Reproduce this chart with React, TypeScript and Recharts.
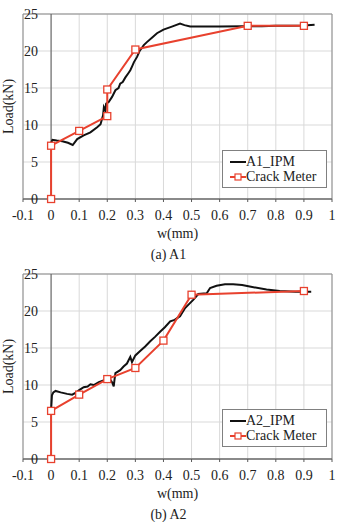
import { CartesianGrid, Label, Legend, Line, LineChart, ReferenceArea, ReferenceLine, XAxis, YAxis } from "recharts"

const FONT = "'Liberation Serif', 'DejaVu Serif', serif"
const RED = "#e8412e"
const AXIS = "#595959"

// shared axes
const wTicks = [-0.1, 0, 0.1, 0.2, 0.3, 0.4, 0.5, 0.6, 0.7, 0.8, 0.9, 1]
const loadTicks = [0, 5, 10, 15, 20, 25]

// A1 - image processing measurement
const a1IpmW = [0, 0.005, 0.02, 0.04, 0.06, 0.077, 0.093, 0.116, 0.14, 0.164, 0.176, 0.185, 0.188, 0.193, 0.196, 0.205, 0.217, 0.229, 0.24, 0.246, 0.255, 0.264, 0.275, 0.282, 0.288, 0.295, 0.306, 0.315, 0.323, 0.33, 0.341, 0.359, 0.377, 0.4, 0.43, 0.459, 0.475, 0.495, 0.53, 0.6, 0.684, 0.75, 0.8, 0.85, 0.9, 0.938]
const a1IpmLoad = [7.6, 8.0, 7.9, 7.8, 7.6, 7.3, 8.1, 8.6, 9.0, 9.7, 10.1, 11.3, 12.4, 12.0, 12.9, 13.1, 13.8, 14.7, 15.0, 15.6, 15.8, 16.4, 17.0, 17.4, 17.9, 18.5, 19.2, 20.0, 20.4, 20.8, 21.2, 21.8, 22.4, 22.9, 23.3, 23.7, 23.5, 23.3, 23.3, 23.3, 23.35, 23.35, 23.4, 23.4, 23.45, 23.55]

// A1 - crack meter
const a1MeterW = [0, 0, 0.1, 0.2, 0.2, 0.3, 0.7, 0.9]
const a1MeterLoad = [0, 7.2, 9.2, 11.2, 14.8, 20.2, 23.4, 23.4]

// A2 - image processing measurement
const a2IpmW = [0, 0.003, 0.008, 0.016, 0.034, 0.057, 0.075, 0.09, 0.1, 0.116, 0.13, 0.14, 0.152, 0.17, 0.193, 0.211, 0.218, 0.223, 0.226, 0.229, 0.246, 0.258, 0.27, 0.282, 0.288, 0.3, 0.317, 0.335, 0.353, 0.37, 0.388, 0.405, 0.424, 0.44, 0.459, 0.477, 0.49, 0.506, 0.524, 0.554, 0.566, 0.589, 0.619, 0.648, 0.68, 0.707, 0.767, 0.814, 0.87, 0.926]
const a2IpmLoad = [6.6, 8.6, 9.0, 9.2, 9.0, 8.8, 8.7, 9.0, 9.3, 9.7, 9.8, 10.1, 10.0, 10.4, 10.7, 10.7, 10.3, 9.8, 10.8, 11.6, 12.0, 12.5, 12.9, 13.8, 13.1, 14.0, 14.6, 15.2, 15.9, 16.5, 17.2, 17.8, 18.6, 18.8, 19.3, 20.4, 20.9, 21.5, 22.3, 22.4, 23.1, 23.4, 23.6, 23.6, 23.5, 23.3, 22.9, 22.7, 22.6, 22.6]

// A2 - crack meter
const a2MeterW = [0, 0, 0.1, 0.2, 0.3, 0.4, 0.5, 0.9]
const a2MeterLoad = [0, 6.5, 8.7, 10.8, 12.3, 16.0, 22.2, 22.7]

const toPoints = (w: number[], load: number[]) => w.map((v, i) => ({ w: v, load: load[i] }))

const SquareDot = (props: any) => {
  const { cx, cy, index } = props
  return <rect key={index} x={cx - 3.5} y={cy - 3.5} width={7} height={7} fill="#fff" stroke={RED} strokeWidth={1.3} />
}

const YTick = (props: any) => {
  const { x, y, payload } = props
  return (
    <text x={x + 15} y={y} textAnchor="end" dominantBaseline="central" style={{ fontFamily: FONT }} fontSize={14} fill="#222">
      {payload.value}
    </text>
  )
}

function LegendBox({ name }: { name: string }) {
  const row = { display: "flex", alignItems: "center", height: 15 }
  return (
    <div style={{ border: "1px solid #808080", background: "#fff", padding: "3px 0 3px 7px", fontFamily: FONT, fontSize: 14, color: "#222", lineHeight: "15px" }}>
      <div style={row}>
        <svg width={16} height={8}><line x1={0} y1={4} x2={16} y2={4} stroke="#111" strokeWidth={2} /></svg>
        <span>{name}</span>
      </div>
      <div style={row}>
        <svg width={16} height={8}>
          <line x1={0} y1={4} x2={16} y2={4} stroke={RED} strokeWidth={2} />
          <rect x={5} y={1} width={6} height={6} fill="#fff" stroke={RED} strokeWidth={1.2} />
        </svg>
        <span>Crack Meter</span>
      </div>
    </div>
  )
}

type ChartProps = {
  ipm: { w: number; load: number }[]
  meter: { w: number; load: number }[]
  name: string
  caption: string
  height: number
  marginTop: number
  legendTop: number
}

function LoadChart({ ipm, meter, name, caption, height, marginTop, legendTop }: ChartProps) {
  return (
    <LineChart width={337} height={height} margin={{ top: marginTop, right: 5, bottom: 0, left: 0 }} style={{ fontFamily: FONT }}>
      <CartesianGrid stroke="#d9d9d9" strokeWidth={1} />
      <ReferenceArea x1={-0.1} x2={1} y1={0} y2={25} fill="none" stroke="#8c8c8c" strokeWidth={1} />
      <XAxis
        type="number"
        dataKey="w"
        domain={[-0.1, 1]}
        ticks={wTicks}
        allowDataOverflow
        height={63}
        stroke={AXIS}
        tickSize={3}
        tickMargin={8}
        tick={{ style: { fontFamily: FONT }, fontSize: 14, fill: "#222" }}
        tickFormatter={(v) => String(v)}
      >
        <Label
          content={({ viewBox }: any) => (
            <g style={{ fontFamily: FONT }} fontSize={14} fill="#222">
              <text x={viewBox.x + viewBox.width / 2} y={viewBox.y + 39} textAnchor="middle">w(mm)</text>
              <text x={168.5} y={viewBox.y + 60} textAnchor="middle">{caption}</text>
            </g>
          )}
        />
      </XAxis>
      <YAxis
        type="number"
        domain={[0, 25]}
        ticks={loadTicks}
        width={23}
        axisLine={false}
        tickLine={false}
        tickSize={0}
        tickMargin={0}
        tick={<YTick />}
      >
        <Label
          content={({ viewBox }: any) => {
            const cx = 13
            const cy = viewBox.y + viewBox.height / 2
            return (
              <text x={cx} y={cy} transform={`rotate(-90, ${cx}, ${cy})`} textAnchor="middle" style={{ fontFamily: FONT }} fontSize={14} fill="#222">
                Load(kN)
              </text>
            )
          }}
        />
      </YAxis>
      <ReferenceLine x={0} stroke={AXIS} strokeWidth={1} />
      <Line data={ipm} dataKey="load" type="linear" stroke="#111" strokeWidth={2} dot={false} isAnimationActive={false} />
      <Line data={meter} dataKey="load" type="linear" stroke={RED} strokeWidth={2} dot={SquareDot} isAnimationActive={false} />
      <Legend
        layout="vertical"
        align="center"
        verticalAlign="middle"
        wrapperStyle={{ left: 222, top: legendTop, width: 105 }}
        content={() => <LegendBox name={name} />}
      />
    </LineChart>
  )
}

export default function App() {
  return (
    <div style={{ position: "absolute", left: 0, top: 0, width: 337, height: 522, background: "#fff", fontFamily: FONT }}>
      <div style={{ position: "absolute", left: 0, top: 0 }}>
        <LoadChart
          ipm={toPoints(a1IpmW, a1IpmLoad)}
          meter={toPoints(a1MeterW, a1MeterLoad)}
          name="A1_IPM"
          caption="(a) A1"
          height={262}
          marginTop={14}
          legendTop={150}
        />
      </div>
      <div style={{ position: "absolute", left: 0, top: 262 }}>
        <LoadChart
          ipm={toPoints(a2IpmW, a2IpmLoad)}
          meter={toPoints(a2MeterW, a2MeterLoad)}
          name="A2_IPM"
          caption="(b) A2"
          height={260}
          marginTop={12}
          legendTop={147}
        />
      </div>
    </div>
  )
}
